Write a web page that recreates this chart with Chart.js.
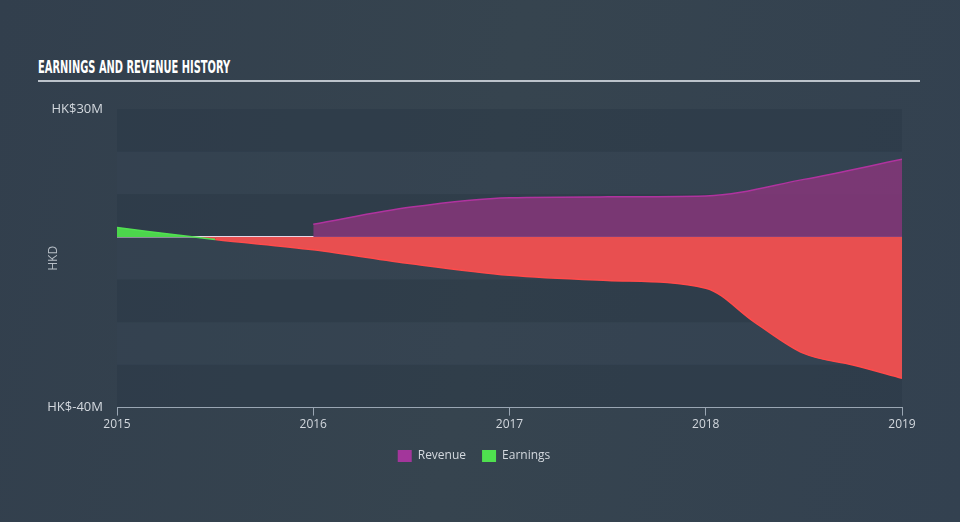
<!DOCTYPE html>
<html>
<head>
<meta charset="utf-8">
<script src="https://cdn.jsdelivr.net/npm/chart.js@4"></script>
<style>
  html, body { margin: 0; padding: 0; }
  body {
    width: 960px; height: 522px; overflow: hidden; position: relative;
    background: linear-gradient(100deg, #323f4d 0%, #36444f 50%, #334150 100%);
  }
  .title {
    position: absolute; left: 38px; top: 57px; white-space: nowrap;
    font-family: "DejaVu Sans Condensed", "DejaVu Sans", sans-serif;
    font-stretch: condensed;
    font-weight: bold; font-size: 17px; color: #ffffff;
    transform-origin: left top;
  }
  .rule {
    position: absolute; left: 38px; top: 80px; width: 882px; height: 2px;
    background: #bcc3cb;
  }
  #wrap { position: absolute; left: 0; top: 0; width: 960px; height: 522px; }
</style>
</head>
<body>
<div class="title" id="title">EARNINGS AND REVENUE HISTORY</div>
<div class="rule"></div>
<div id="wrap"><canvas id="chart"></canvas></div>
<script>
  const revenueX = [2016, 2016.5, 2017, 2017.5, 2018, 2018.5, 2019];
  const revenueY = [3.0, 7.0, 9.2, 9.4, 9.6, 13.5, 18.2];
  const earningsX = [2015, 2015.5, 2016, 2016.5, 2017, 2017.5, 2018, 2018.25, 2018.5, 2018.75, 2019];
  const earningsY = [2.2, -0.6, -3.0, -6.3, -9.0, -10.2, -12.0, -20.0, -27.3, -30.0, -33.1];
  const yearTicks = [2015, 2016, 2017, 2018, 2019];

  // squeeze the heading to the narrow width of the original
  const title = document.getElementById('title');
  title.style.transform = 'scaleX(' + (192 / title.offsetWidth) + ')';

  const bandPlugin = {
    id: 'bands',
    beforeDraw(chart) {
      const { ctx, chartArea, scales } = chart;
      const y = scales.y;
      ctx.save();
      for (let v = 30, i = 0; v > -40; v -= 10, i++) {
        const top = y.getPixelForValue(v);
        const bottom = y.getPixelForValue(v - 10);
        ctx.fillStyle = i % 2 === 0 ? 'rgba(42,55,69,0.5)' : 'rgba(55,70,85,0.35)';
        ctx.fillRect(chartArea.left, top, chartArea.right - chartArea.left, bottom - top);
      }
      ctx.restore();
    }
  };

  const toPoints = (xs, ys) => xs.map((x, i) => ({ x: x, y: ys[i] }));

  new Chart(document.getElementById('chart'), {
    type: 'line',
    data: {
      datasets: [
        {
          label: 'Revenue',
          data: toPoints(revenueX, revenueY),
          borderColor: '#b0339f',
          backgroundColor: '#a3369b',
          borderWidth: 1.5,
          pointRadius: 0,
          cubicInterpolationMode: 'monotone',
          fill: { target: 'origin', above: 'rgba(125,56,118,0.95)', below: 'rgba(125,56,118,0.95)' }
        },
        {
          label: 'Earnings',
          data: toPoints(earningsX, earningsY),
          borderColor: '#ff4b4b',
          backgroundColor: '#4fe04f',
          borderWidth: 1.5,
          pointRadius: 0,
          cubicInterpolationMode: 'monotone',
          segment: {
            borderColor: c => c.p0.parsed.y >= 0 ? '#52e052' : '#ff4b4b'
          },
          fill: { target: 'origin', above: '#4cd64c', below: '#e84f50' }
        }
      ]
    },
    options: {
      responsive: true,
      maintainAspectRatio: false,
      animation: false,
      layout: { padding: { left: 46, right: 58, top: 109, bottom: 50 } },
      plugins: {
        legend: {
          position: 'bottom',
          labels: {
            color: '#d3d8de',
            font: { family: 'Open Sans', size: 12 },
            boxWidth: 14, boxHeight: 12, padding: 16,
            generateLabels: chart => chart.data.datasets.map((d, i) => ({
              text: d.label, fillStyle: d.backgroundColor, strokeStyle: d.backgroundColor,
              lineWidth: 0, datasetIndex: i, fontColor: '#d3d8de'
            }))
          }
        },
        tooltip: { enabled: false }
      },
      scales: {
        x: {
          type: 'linear',
          min: 2015, max: 2019,
          afterBuildTicks: s => { s.ticks = yearTicks.map(v => ({ value: v })); },
          ticks: {
            color: '#d3d8de', font: { family: 'Open Sans', size: 12 },
            padding: 2, maxRotation: 0, autoSkip: false,
            callback: v => String(v)
          },
          grid: { drawOnChartArea: false, drawTicks: true, tickLength: 8, color: '#9aa6b3' },
          border: { display: true, color: '#9aa6b3', width: 1 }
        },
        y: {
          min: -40, max: 30,
          z: 1,
          ticks: {
            stepSize: 10,
            color: '#d3d8de', font: { family: 'Open Sans', size: 13 },
            padding: 14,
            callback: v => (v === 30 || v === -40) ? 'HK$' + v + 'M' : ''
          },
          grid: {
            drawTicks: false,
            lineWidth: c => c.tick && c.tick.value === 0 ? 1.5 : 0,
            color: c => c.tick && c.tick.value === 0 ? '#e6d6e6' : 'rgba(0,0,0,0)'
          },
          border: { display: false },
          title: {
            display: true, text: 'HKD', color: '#b7bec6',
            font: { family: 'Open Sans', size: 12 }, padding: { top: 0, bottom: 0 }
          },
          afterFit: s => { s.width = 71; }
        }
      }
    },
    plugins: [bandPlugin]
  });
</script>
</body>
</html>
